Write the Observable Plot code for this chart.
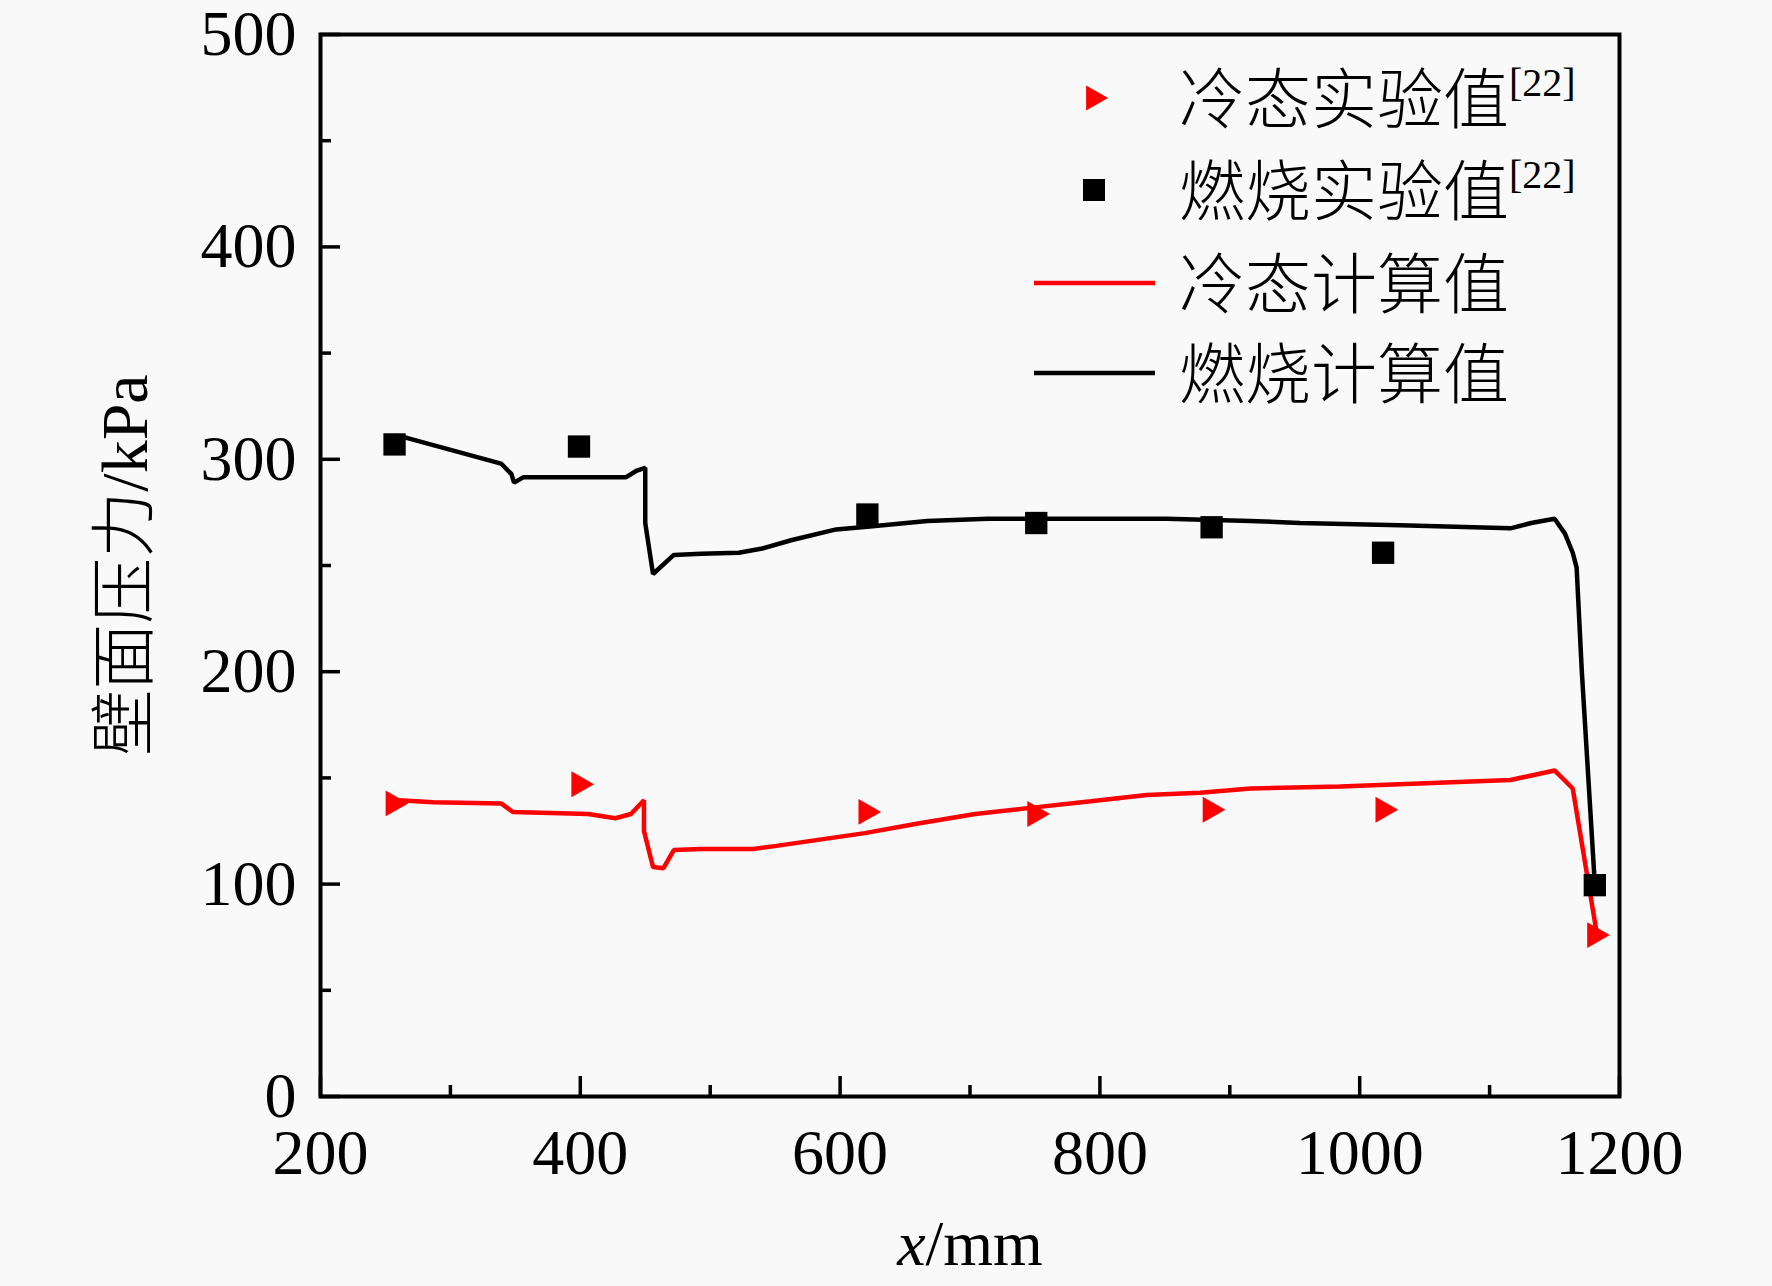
<!DOCTYPE html>
<html><head><meta charset="utf-8">
<script src="https://cdn.jsdelivr.net/npm/d3@7"></script>
<script src="https://cdn.jsdelivr.net/npm/@observablehq/plot@0.6"></script>
<style>
html,body{margin:0;padding:0;background:#f9f9f9;}
#chart svg{display:block;}
</style></head><body><div id="chart"></div>
<script>
// ---- data ----
const combCalcX = [258,267,339,347,349,356,435,443,450,450,456,472,493,522,540,563,597,625,667,714,780,851,916,954,1031,1116,1132,1150,1158,1164,1167,1171,1181];
const combCalcY = [311,310,298,293,289,291.5,291.5,294.5,296,270,246,255,255.5,256,258,262,267,268.5,271,272,272,272,271,270,269,267.5,270,272,265,256,249,200,100];
const coldCalcX = [260,287,339,348,406,427,439,449,449,456,464,472,493,533,551,619,660,704,748,793,836,877,916,985,1116,1150,1164,1183];
const coldCalcY = [139.5,138.5,138,134,133,131,133,139.5,125,108,107.5,116,116.5,116.5,118,124,128.5,133,136,139,142,143,145,146,149,153.5,145,75];
const combExpX = [257,399,621,751,886,1018,1181];
const combExpY = [307,306,274,270,268,256,99.5];
const coldExpX = [258,401,622,752,887,1020,1183];
const coldExpY = [138,147,134,133,135,135,76];
const xMajor = [200,400,600,800,1000,1200];
const xMinor = [300,500,700,900,1100];
const yMajor = [0,100,200,300,400,500];
const yMinor = [50,150,250,350,450];
const legendLabels = ["冷态实验值","燃烧实验值","冷态计算值","燃烧计算值"];
const legendRef = "[22]";
const xLabelItalic = "x", xLabelRest = "/mm";
const yLabelCJK = "壁面压力", yLabelRest = "/kPa";

const zip = (xs, ys) => xs.map((x, i) => ({x, y: ys[i]}));
const combCalc = zip(combCalcX, combCalcY);
const coldCalc = zip(coldCalcX, coldCalcY);
const combExp = zip(combExpX, combExpY);
const coldExp = zip(coldExpX, coldExpY);

const W = 1772, H = 1286;
const serif = "'Liberation Serif','Times New Roman',serif";
const cjk = "'Noto Sans CJK SC','Noto Sans CJK JP',sans-serif";
const RED = "#ff0000";

const triRight = {
  draw(ctx, size) {
    const s = Math.sqrt(size);
    ctx.moveTo(0.55 * s, 0);
    ctx.lineTo(-0.45 * s, -0.57 * s);
    ctx.lineTo(-0.45 * s, 0.57 * s);
    ctx.closePath();
  }
};

const fmt = d3.format("d");
const plot = Plot.plot({
  width: W, height: H,
  marginLeft: 320, marginRight: 153, marginTop: 34, marginBottom: 190,
  style: {background: "#f9f9f9", fontFamily: serif, fontSize: "64px", color: "#000", overflow: "visible"},
  x: {domain: [200, 1200]},
  y: {domain: [0, 500]},
  marks: [
    Plot.axisX({ticks: xMajor, tickSize: -20, tickPadding: 52, strokeWidth: 3.5, fontSize: 64, label: null, tickFormat: fmt, fill: "#000"}),
    Plot.axisX({ticks: xMinor, tickSize: -11, strokeWidth: 3.5, text: null, label: null}),
    Plot.axisY({ticks: yMajor, tickSize: -20, tickPadding: 44, strokeWidth: 3.5, fontSize: 64, label: null, tickFormat: fmt, fill: "#000"}),
    Plot.axisY({ticks: yMinor, tickSize: -11, strokeWidth: 3.5, text: null, label: null}),
    Plot.line(combCalc, {x: "x", y: "y", stroke: "#000", strokeWidth: 4.5, strokeLinejoin: "miter"}),
    Plot.line(coldCalc, {x: "x", y: "y", stroke: RED, strokeWidth: 4.5, strokeLinejoin: "miter"}),
    Plot.dot(combExp, {x: "x", y: "y", symbol: "square", r: 12.6, fill: "#000", stroke: null}),
    Plot.dot(coldExp, {x: "x", y: "y", symbol: triRight, r: 12.8, fill: RED, stroke: null}),
    Plot.frame({stroke: "#000", strokeWidth: 4})
  ]
});
document.getElementById("chart").appendChild(plot);

const svg = d3.select(plot);
// x label
const xl = svg.append("text").attr("x", 970).attr("y", 1265).attr("text-anchor", "middle")
  .attr("font-family", serif).attr("font-size", 64).attr("fill", "#000");
xl.append("tspan").attr("font-style", "italic").text(xLabelItalic);
xl.append("tspan").text(xLabelRest);
// y label
const yl = svg.append("text").attr("transform", "translate(147,565) rotate(-90)").attr("text-anchor", "middle")
  .attr("font-size", 66).attr("fill", "#000");
yl.append("tspan").attr("font-family", cjk).attr("font-weight", 300).text(yLabelCJK);
yl.append("tspan").attr("font-family", serif).text(yLabelRest);

// legend
const lg = svg.append("g").attr("text-anchor", "start");
const rowY = [98, 190, 283, 373];
lg.append("path").attr("transform", `translate(1096,${rowY[0]})`).attr("d", d3.symbol(triRight, 12.4 * 12.4 * Math.PI)()).attr("fill", RED);
lg.append("path").attr("transform", `translate(1094,${rowY[1]})`).attr("d", d3.symbol(d3.symbolSquare, 12.4 * 12.4 * Math.PI)()).attr("fill", "#000");
lg.append("line").attr("x1", 1034).attr("x2", 1155).attr("y1", rowY[2]).attr("y2", rowY[2]).attr("stroke", RED).attr("stroke-width", 4.5);
lg.append("line").attr("x1", 1034).attr("x2", 1155).attr("y1", rowY[3]).attr("y2", rowY[3]).attr("stroke", "#000").attr("stroke-width", 4.5);
legendLabels.forEach((lab, i) => {
  const t = lg.append("text").attr("x", 1179).attr("y", rowY[i] + 25).attr("font-size", 66).attr("fill", "#000").attr("text-anchor", "start");
  t.append("tspan").attr("font-family", cjk).attr("font-weight", 300).text(lab);
  if (i < 2) t.append("tspan").attr("font-family", serif).attr("font-size", 40).attr("dy", -27).text(legendRef);
});
</script>
</body></html>
